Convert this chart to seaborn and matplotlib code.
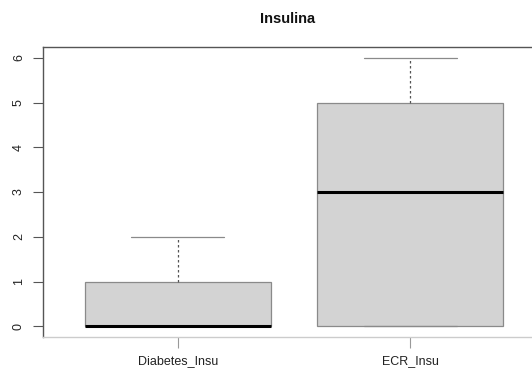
# Insulina boxplot (R base-graphics look) with seaborn

import pandas as pd
import numpy as np
import matplotlib
matplotlib.use("Agg")
import matplotlib.pyplot as plt
import seaborn as sns


# --------------------------------------------------
# Data (observations chosen so quartiles match the picture)
# --------------------------------------------------

groups = ["Diabetes_Insu", "ECR_Insu"]
diabetes_insu = [0, 0, 0, 0, 0, 0, 1, 1, 2]
ecr_insu = [0, 0, 0, 3, 5, 5, 6]
y_ticks = [0, 1, 2, 3, 4, 5, 6]

df = pd.DataFrame({
    "grupo": [groups[0]] * len(diabetes_insu) + [groups[1]] * len(ecr_insu),
    "valor": diabetes_insu + ecr_insu,
})


# --------------------------------------------------
# Plot
# --------------------------------------------------

sns.set_style("white")
plt.rcParams["font.family"] = ["Liberation Sans", "DejaVu Sans"]

fig = plt.figure(figsize=(5.32, 3.71), dpi=100)
ax = fig.add_axes([0.0808, 0.0916, 0.9436, 0.7817])

sns.boxplot(
    data=df,
    x="grupo",
    y="valor",
    order=groups,
    width=0.8,
    color="#d3d3d3",
    linecolor="#8a8a8a",
    linewidth=0.9,
    showfliers=False,
    whis=1.5,
    medianprops={"color": "black", "linewidth": 2.2},
    whiskerprops={"color": "#555555", "linestyle": (0, (2, 2)), "linewidth": 0.9},
    capprops={"color": "#8a8a8a", "linewidth": 0.9},
    ax=ax,
)

ax.set_xlim(0.42 - 1, 2.58 - 1)
ax.set_ylim(-0.24, 6.24)
ax.set_yticks(y_ticks)
ax.set_yticklabels([str(t) for t in y_ticks], rotation=90, va="center")

ax.set_title("Insulina", fontsize=10.5, fontweight="bold", pad=17,
             color="#111111", x=0.488)
ax.set_xlabel("")
ax.set_ylabel("")

for side in ["top", "left", "right"]:
    ax.spines[side].set_color("#555555")
    ax.spines[side].set_linewidth(1.0)
ax.spines["bottom"].set_color("#cccccc")
ax.spines["bottom"].set_linewidth(1.0)

ax.tick_params(axis="y", left=True, length=7, width=0.8, color="#555555",
               labelsize=9, labelcolor="#222222", pad=6)
ax.tick_params(axis="x", bottom=True, length=8, width=0.8, color="#999999",
               labelsize=9, labelcolor="#222222", pad=5)

plt.savefig("out.png", dpi=100)
